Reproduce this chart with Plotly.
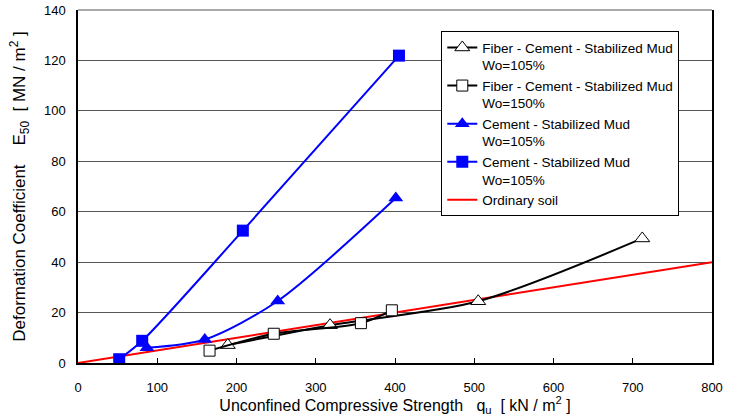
import plotly.graph_objects as go

# Data
fiber105_x = [189, 318, 505, 712]
fiber105_y = [7.1, 15.0, 24.5, 49.4]

fiber150_x = [166, 247, 357, 396]
fiber150_y = [4.9, 11.6, 15.8, 20.9]

cement_tri_x = [87, 160, 252, 401]
cement_tri_y = [6.0, 9.3, 24.6, 65.4]

cement_sq_x = [52, 81, 208, 405]
cement_sq_y = [1.5, 8.8, 52.5, 121.9]

soil_x = [0, 800]
soil_y = [0, 40]

x_ticks = [0, 100, 200, 300, 400, 500, 600, 700, 800]
y_ticks = [0, 20, 40, 60, 80, 100, 120, 140]

FONT = "Liberation Sans, Arial, sans-serif"
NB = "\u00a0"

fig = go.Figure()

fig.add_trace(go.Scatter(
    x=soil_x, y=soil_y, mode="lines", name="Ordinary soil",
    line=dict(color="#ff0000", width=2), legendrank=5))

fig.add_trace(go.Scatter(
    x=fiber105_x, y=fiber105_y, mode="lines+markers",
    name="Fiber - Cement - Stabilized Mud<br>Wo=105%",
    line=dict(color="black", width=2, shape="spline", smoothing=0.8),
    marker=dict(symbol="triangle-up", size=13, color="white",
                line=dict(color="black", width=1)),
    legendrank=1))

fig.add_trace(go.Scatter(
    x=fiber150_x, y=fiber150_y, mode="lines+markers",
    name="Fiber - Cement - Stabilized Mud<br>Wo=150%",
    line=dict(color="black", width=2, shape="spline", smoothing=0.8),
    marker=dict(symbol="square", size=11, color="white",
                line=dict(color="black", width=1)),
    legendrank=2))

fig.add_trace(go.Scatter(
    x=cement_tri_x, y=cement_tri_y, mode="lines+markers",
    name="Cement - Stabilized Mud<br>Wo=105%",
    line=dict(color="#0000ff", width=2, shape="spline", smoothing=0.8),
    marker=dict(symbol="triangle-up", size=13, color="#0000ff"),
    legendrank=3))

fig.add_trace(go.Scatter(
    x=cement_sq_x, y=cement_sq_y, mode="lines+markers",
    name="Cement - Stabilized Mud<br>Wo=105%",
    line=dict(color="#0000ff", width=2, shape="spline", smoothing=0.8),
    marker=dict(symbol="square", size=12, color="#0000ff"),
    legendrank=4))

x_title = ("Unconfined Compressive Strength" + NB * 3 + "q<sub>u</sub>" + NB * 2
           + "[" + NB + "kN" + NB + "/" + NB + "m<sup>2</sup>" + NB + "]")
y_title = (NB * 5 + "Deformation Coefficient" + NB * 4 + "E<sub>50</sub>" + NB * 2
           + "[" + NB + "MN" + NB + "/" + NB + "m<sup>2</sup>" + NB + "]")

fig.update_layout(
    width=742, height=416,
    margin=dict(l=78, r=30, t=10, b=53, autoexpand=False),
    paper_bgcolor="white", plot_bgcolor="white",
    font=dict(family=FONT, size=13, color="black"),
    showlegend=True,
    legend=dict(
        x=0.573, y=0.94, xanchor="left", yanchor="top",
        bgcolor="white", bordercolor="black", borderwidth=1,
        font=dict(family=FONT, size=13.5, color="black"),
        valign="top", tracegroupgap=0,
    ),
    xaxis=dict(
        range=[0, 800], tickvals=x_ticks, ticktext=[str(v) for v in x_ticks],
        showgrid=False, zeroline=False, automargin=False,
        showline=True, linecolor="black", linewidth=2,
        ticks="inside", ticklen=5, tickcolor="black", tickwidth=1,
        ticklabelstandoff=11, ticklabeloverflow="allow",
        title=dict(text=x_title, font=dict(size=16), standoff=7),
    ),
    yaxis=dict(
        range=[0, 140], tickvals=y_ticks, ticktext=[str(v) for v in y_ticks],
        showgrid=True, gridcolor="#555555", gridwidth=1,
        zeroline=False, automargin=False,
        showline=True, linecolor="black", linewidth=1.5, mirror=True,
        ticks="", ticklabelstandoff=8, ticklabeloverflow="allow",
        title=dict(text=y_title, font=dict(size=17), standoff=14),
    ),
    shapes=[dict(type="line", xref="paper", yref="paper", x0=0, x1=1, y0=1, y1=1,
                 line=dict(color="#555555", width=1))],
)

fig.write_html("out.html", config={"displayModeBar": False},
               post_script="document.body.style.margin='0';")
